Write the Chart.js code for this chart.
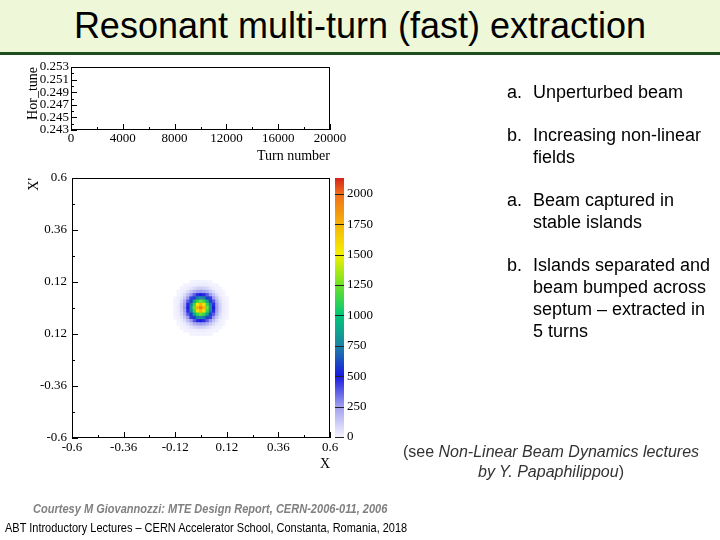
<!DOCTYPE html>
<html>
<head>
<meta charset="utf-8">
<title>Resonant multi-turn (fast) extraction</title>
<script src="https://cdn.jsdelivr.net/npm/chart.js@4.4.0/dist/chart.umd.min.js"></script>
<style>
  body { margin: 0; width: 720px; height: 540px; position: relative; overflow: hidden; background: #fff;
         font-family: "Liberation Sans", Arial, sans-serif; color: #000; }
  #titlebar { position: absolute; left: 0; top: 0; width: 720px; height: 52px; background: #eef8d8;
              border-bottom: 3px solid #1f4f1f; }
  #titlebar h1 { margin: 0; font-weight: normal; font-size: 36px; line-height: 52px; text-align: center; }
  canvas { position: absolute; left: 0; top: 0; }
  .item { position: absolute; left: 533px; font-size: 18px; line-height: 22px; white-space: nowrap; }
  .item .lbl { position: absolute; left: -26px; }
  #see { position: absolute; left: 391px; top: 442px; width: 320px; text-align: center; font-size: 16px;
         line-height: 20px; color: #333; }
  #courtesy { position: absolute; left: 33px; top: 502px; font-size: 12px; font-weight: bold; font-style: italic;
              color: #808080; white-space: nowrap; transform: scaleX(0.92); transform-origin: left center; }
  #footer { position: absolute; left: 5px; top: 520px; font-size: 13px; white-space: nowrap;
            transform: scaleX(0.845); transform-origin: left center; }
</style>
</head>
<body>
<div id="titlebar"><h1>Resonant multi-turn (fast) extraction</h1></div>

<canvas id="tune" width="720" height="540"></canvas>
<canvas id="phase" width="720" height="540"></canvas>
<canvas id="zbar" width="720" height="540"></canvas>

<div class="item" style="top:81px"><span class="lbl">a.</span>Unperturbed beam</div>
<div class="item" style="top:124px"><span class="lbl">b.</span>Increasing non-linear<br>fields</div>
<div class="item" style="top:189px"><span class="lbl">a.</span>Beam captured in<br>stable islands</div>
<div class="item" style="top:254px"><span class="lbl">b.</span>Islands separated and<br>beam bumped across<br>septum – extracted in<br>5 turns</div>

<div id="see">(see <i>Non-Linear Beam Dynamics lectures<br>by Y. Papaphilippou</i>)</div>
<div id="courtesy">Courtesy M Giovannozzi: MTE Design Report, CERN-2006-011, 2006</div>
<div id="footer">ABT Introductory Lectures – CERN Accelerator School, Constanta, Romania, 2018</div>

<script>
// Top panel: tune vs turn number (empty frame)
const turnLabels = [0, 4000, 8000, 12000, 16000, 20000];
const turnMinor = [2000, 6000, 10000, 14000, 18000];
const tuneLabels = [0.243, 0.245, 0.247, 0.249, 0.251, 0.253];
const tuneMinor = [0.244, 0.246, 0.248, 0.250, 0.252];

// Phase space panel: X / X' histogram of the beam
const xLabels = [-0.6, -0.36, -0.12, 0.12, 0.36, 0.6];
const xMinor = [-0.48, -0.24, 0, 0.24, 0.48];
const yLabelValues = [-0.6, -0.36, -0.12, 0.12, 0.36, 0.6];
const yLabelText = ['-0.6', '-0.36', '0.12', '0.12', '0.36', '0.6'];
const yMinor = [-0.48, -0.24, 0, 0.24, 0.48];

const binWidth = 0.015;
const binCentres = [-0.12, -0.105, -0.09, -0.075, -0.06, -0.045, -0.03, -0.015, 0,
                    0.015, 0.03, 0.045, 0.06, 0.075, 0.09, 0.105, 0.12];
// rows from X' = +0.12 (top) down to X' = -0.12
const beamCounts = [
  [0, 0, 0, 0, 0, 1, 2, 3, 4, 3, 2, 1, 0, 0, 0, 0, 0],
  [0, 0, 0, 1, 4, 10, 16, 22, 25, 21, 17, 9, 4, 1, 0, 0, 0],
  [0, 0, 2, 7, 22, 48, 76, 102, 110, 105, 79, 46, 21, 8, 2, 0, 0],
  [0, 1, 7, 26, 70, 136, 194, 241, 260, 236, 202, 129, 74, 24, 6, 1, 0],
  [0, 4, 20, 72, 155, 262, 374, 466, 503, 470, 382, 255, 159, 70, 21, 3, 0],
  [1, 9, 46, 130, 260, 434, 602, 733, 803, 742, 594, 443, 254, 136, 44, 10, 1],
  [2, 16, 74, 202, 375, 603, 874, 1123, 1253, 1133, 882, 596, 381, 194, 78, 15, 2],
  [3, 22, 103, 234, 472, 736, 1133, 1553, 1753, 1563, 1122, 743, 464, 241, 99, 23, 3],
  [3, 25, 107, 261, 495, 804, 1243, 1758, 1958, 1743, 1253, 794, 501, 255, 104, 24, 3],
  [3, 23, 99, 240, 466, 743, 1124, 1563, 1738, 1548, 1134, 732, 473, 236, 102, 22, 3],
  [2, 15, 78, 195, 382, 592, 883, 1122, 1243, 1126, 874, 604, 375, 201, 74, 16, 2],
  [1, 10, 44, 134, 255, 444, 595, 743, 794, 734, 603, 432, 261, 131, 48, 9, 1],
  [0, 3, 22, 72, 161, 254, 381, 472, 495, 464, 375, 263, 154, 74, 20, 4, 0],
  [0, 1, 6, 25, 74, 129, 202, 234, 256, 242, 195, 135, 72, 27, 8, 1, 0],
  [0, 0, 2, 8, 20, 47, 80, 104, 106, 101, 77, 49, 22, 7, 2, 0, 0],
  [0, 0, 0, 1, 4, 9, 17, 21, 24, 23, 15, 10, 3, 1, 0, 0, 0],
  [0, 0, 0, 0, 0, 1, 2, 4, 3, 3, 2, 1, 0, 0, 0, 0, 0]
];

// Colour scale
const zTicks = [0, 250, 500, 750, 1000, 1250, 1500, 1750, 2000];
const zMax = 2130;
const palette = [
  [0, [244, 244, 255]],
  [250, [160, 160, 238]],
  [500, [25, 25, 225]],
  [750, [30, 130, 165]],
  [1000, [0, 200, 120]],
  [1250, [110, 225, 40]],
  [1500, [245, 240, 0]],
  [1750, [245, 180, 10]],
  [2000, [240, 110, 25]],
  [2130, [215, 35, 30]]
];

Chart.defaults.font.family = '"Liberation Serif", "DejaVu Serif", serif';
Chart.defaults.font.size = 13;
Chart.defaults.color = '#000';
Chart.defaults.animation = false;
Chart.defaults.plugins.legend.display = false;
Chart.defaults.plugins.tooltip.enabled = false;

function colourFor(v) {
  for (let i = 1; i < palette.length; i++) {
    const [v0, c0] = palette[i - 1];
    const [v1, c1] = palette[i];
    if (v <= v1) {
      const f = (v - v0) / (v1 - v0);
      const c = c0.map((a, k) => Math.round(a + (c1[k] - a) * f));
      return 'rgb(' + c.join(',') + ')';
    }
  }
  return 'rgb(' + palette[palette.length - 1][1].join(',') + ')';
}

// fixed axis size so the plot frames land where the slide has them
function fixSize(prop, size) {
  return s => {
    s[prop] = size;
    s.paddingLeft = s.paddingRight = s.paddingTop = s.paddingBottom = 0;
  };
}
function setTicks(major, minor) {
  return s => { s.ticks = major.concat(minor).sort((a, b) => a - b).map(v => ({ value: v })); };
}

// ROOT style: frame box and tick marks pointing inwards
const rootFrame = {
  id: 'rootFrame',
  afterDatasetsDraw(chart, args, opts) {
    const { ctx, chartArea: a } = chart;
    ctx.save();
    ctx.strokeStyle = opts.color || '#000';
    ctx.lineWidth = 1;
    if (opts.box) ctx.strokeRect(a.left + 0.5, a.top + 0.5, a.width - 1, a.height - 1);
    (opts.axes || []).forEach(id => {
      const s = chart.scales[id];
      s.ticks.forEach(t => {
        const len = t.label !== '' ? opts.major : opts.minor;
        const p = Math.round(s.getPixelForValue(t.value)) + 0.5;
        ctx.beginPath();
        if (s.isHorizontal()) {
          ctx.moveTo(p, a.bottom); ctx.lineTo(p, a.bottom - len);
        } else if (s.position === 'left') {
          ctx.moveTo(a.left, p); ctx.lineTo(a.left + len, p);
        } else {
          ctx.moveTo(a.right, p); ctx.lineTo(a.right - len, p);
        }
        ctx.stroke();
      });
    });
    ctx.restore();
  }
};

const titleFont = { size: 14 };
const noGrid = { display: false, drawTicks: false };

// Hor_tune vs turn number
new Chart(document.getElementById('tune'), {
  type: 'scatter',
  data: { datasets: [{ data: [] }] },
  options: {
    responsive: false,
    events: [],
    layout: { padding: { left: 25, top: 67, right: 390, bottom: 375 } },
    scales: {
      x: {
        type: 'linear', min: 0, max: 20000,
        grid: noGrid, border: { display: false },
        afterBuildTicks: setTicks(turnLabels, turnMinor),
        afterFit: fixSize('height', 35),
        ticks: { autoSkip: false, maxRotation: 0, padding: 1,
                 callback: v => turnLabels.includes(v) ? String(v) : '' },
        title: { display: true, text: 'Turn number', align: 'end', font: titleFont, padding: 0 }
      },
      y: {
        type: 'linear', min: 0.243, max: 0.253,
        grid: noGrid, border: { display: false },
        afterBuildTicks: setTicks(tuneLabels, tuneMinor),
        afterFit: fixSize('width', 46),
        ticks: { autoSkip: false, padding: 2,
                 callback: v => tuneLabels.includes(v) ? v.toFixed(3) : '' },
        title: { display: true, text: 'Hor_tune', align: 'end', font: titleFont, padding: 0 }
      }
    },
    plugins: { rootFrame: { box: true, axes: ['x', 'y'], major: 6, minor: 3 } }
  },
  plugins: [rootFrame]
});

// X / X' phase space histogram
const beamCells = [];
beamCounts.forEach((row, r) => {
  row.forEach((v, c) => {
    if (v > 0) beamCells.push({ x: binCentres[c], y: binCentres[beamCounts.length - 1 - r], v: v });
  });
});

new Chart(document.getElementById('phase'), {
  type: 'scatter',
  data: {
    datasets: [{
      data: beamCells,
      pointStyle: 'rect',
      borderWidth: 0,
      backgroundColor: ctx => colourFor(ctx.raw ? ctx.raw.v : 0),
      pointRadius: ctx => {
        const xs = ctx.chart.scales.x;
        const half = Math.abs(xs.getPixelForValue(binWidth) - xs.getPixelForValue(0)) / 2;
        return (half + 0.3) * Math.SQRT2;
      }
    }]
  },
  options: {
    responsive: false,
    events: [],
    layout: { padding: { left: 26, top: 178, right: 390, bottom: 67 } },
    scales: {
      x: {
        type: 'linear', min: -0.6, max: 0.6,
        grid: noGrid, border: { display: false },
        afterBuildTicks: setTicks(xLabels, xMinor),
        afterFit: fixSize('height', 35),
        ticks: { autoSkip: false, maxRotation: 0, padding: 2,
                 callback: v => xLabels.includes(v) ? String(v) : '' },
        title: { display: true, text: 'X', align: 'end', font: titleFont, padding: 0 }
      },
      y: {
        type: 'linear', min: -0.6, max: 0.6,
        grid: noGrid, border: { display: false },
        afterBuildTicks: setTicks(yLabelValues, yMinor),
        afterFit: fixSize('width', 46),
        ticks: { autoSkip: false, padding: 5,
                 callback: v => {
                   const i = yLabelValues.indexOf(v);
                   return i >= 0 ? yLabelText[i] : '';
                 } },
        title: { display: true, text: "X'", align: 'end', font: titleFont, padding: 0 }
      }
    },
    plugins: { rootFrame: { box: true, axes: ['x', 'y'], major: 6, minor: 3 } }
  },
  plugins: [rootFrame]
});

// colour scale bar
new Chart(document.getElementById('zbar'), {
  type: 'bar',
  data: {
    labels: ['counts'],
    datasets: [{
      data: [zMax],
      barPercentage: 1,
      categoryPercentage: 1,
      borderWidth: 0,
      backgroundColor: ctx => {
        const { ctx: c, chartArea, scales } = ctx.chart;
        if (!chartArea) return '#fff';
        const y0 = scales.y.getPixelForValue(0);
        const y1 = scales.y.getPixelForValue(zMax);
        const g = c.createLinearGradient(0, y0, 0, y1);
        palette.forEach(([v, col]) => g.addColorStop(v / zMax, 'rgb(' + col.join(',') + ')'));
        return g;
      }
    }]
  },
  options: {
    responsive: false,
    events: [],
    layout: { padding: { left: 335, top: 178, right: 336, bottom: 103 } },
    scales: {
      x: { display: false },
      y: {
        position: 'right', min: 0, max: zMax,
        grid: noGrid, border: { display: false },
        afterBuildTicks: s => { s.ticks = zTicks.map(v => ({ value: v })); },
        afterFit: fixSize('width', 40),
        ticks: { autoSkip: false, padding: 3, callback: v => String(v) }
      }
    },
    plugins: { rootFrame: { box: false, axes: ['y'], major: 9, minor: 9, color: '#222' } }
  },
  plugins: [rootFrame]
});
</script>
</body>
</html>
